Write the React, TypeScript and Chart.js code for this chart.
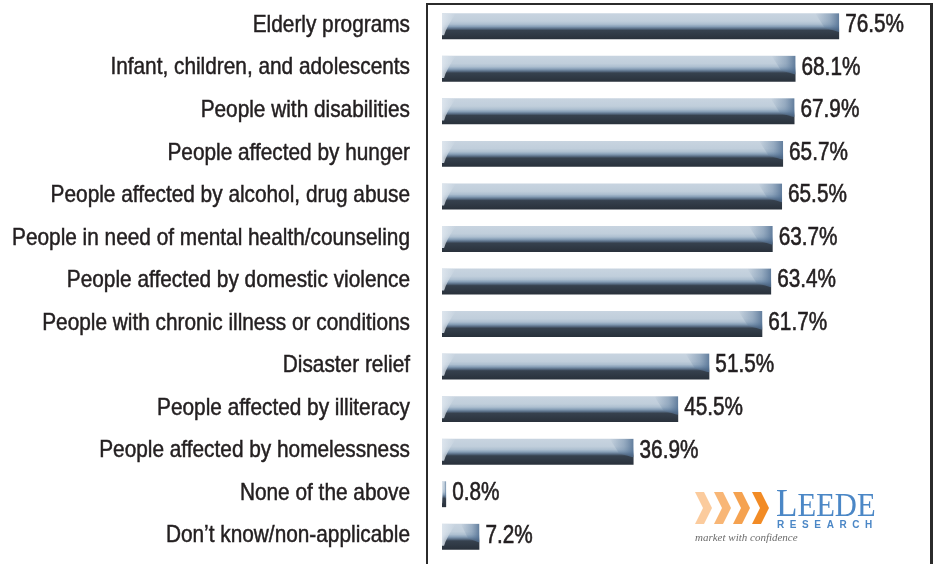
import React, { useEffect, useRef } from "react";
import { Chart, registerables } from "chart.js";

Chart.register(...registerables);

const categories: string[] = [
  "Elderly programs",
  "Infant, children, and adolescents",
  "People with disabilities",
  "People affected by hunger",
  "People affected by alcohol, drug abuse",
  "People in need of mental health/counseling",
  "People affected by domestic violence",
  "People with chronic illness or conditions",
  "Disaster relief",
  "People affected by illiteracy",
  "People affected by homelessness",
  "None of the above",
  "Don\u2019t know/non-applicable",
];

const values: number[] = [76.5, 68.1, 67.9, 65.7, 65.5, 63.7, 63.4, 61.7, 51.5, 45.5, 36.9, 0.8, 7.2];

const valueLabels: string[] = values.map((v) => v.toFixed(1) + "%");

const X_MAX = 94;
const BAR_FRACTION = 0.61;
const TEXT_FONT = '"Liberation Sans", Arial, sans-serif';
const TEXT_COLOR = "#231f20";

const barGradient = (ctx: any) => {
  const chart = ctx.chart;
  const area = chart.chartArea;
  const yScale = chart.scales && chart.scales.y;
  if (!area || !yScale || ctx.dataIndex === undefined) return "#8ea6bd";
  const band = (area.bottom - area.top) / categories.length;
  const cy = yScale.getPixelForValue(ctx.dataIndex);
  const h = band * BAR_FRACTION;
  const g = chart.ctx.createLinearGradient(0, cy - h / 2, 0, cy + h / 2);
  g.addColorStop(0, "#c8d4e0");
  g.addColorStop(0.3, "#c0cedb");
  g.addColorStop(0.42, "#adbfd0");
  g.addColorStop(0.51, "#879fb7");
  g.addColorStop(0.59, "#5a6f87");
  g.addColorStop(0.66, "#36414e");
  g.addColorStop(1, "#29313b");
  return g;
};

const barShading = {
  id: "barShading",
  afterDatasetsDraw(chart: any) {
    const c = chart.ctx;
    const meta = chart.getDatasetMeta(0);
    meta.data.forEach((el: any) => {
      const right = el.x;
      const left = el.base;
      const w = right - left;
      const top = el.y - el.height / 2;
      const h = el.height;
      c.save();
      c.beginPath();
      c.rect(left, top, w, h);
      c.clip();
      // right end: soft darker steel blue
      const rw = Math.min(24, w * 0.5);
      const gr = c.createLinearGradient(right - rw, 0, right, 0);
      gr.addColorStop(0, "rgba(95,125,158,0)");
      gr.addColorStop(0.6, "rgba(95,125,158,0.45)");
      gr.addColorStop(1, "rgba(80,110,145,0.85)");
      c.fillStyle = gr;
      c.beginPath();
      c.moveTo(right - rw, top);
      c.lineTo(right, top);
      c.lineTo(right, top + h * 0.72);
      c.quadraticCurveTo(right - rw * 0.2, top + h * 0.67, right - rw * 0.6, top + h * 0.57);
      c.closePath();
      c.fill();
      // left end: light gloss
      const lw = Math.min(14, w * 0.45);
      const gl = c.createLinearGradient(left, 0, left + lw, 0);
      gl.addColorStop(0, "rgba(222,230,238,0.95)");
      gl.addColorStop(1, "rgba(222,230,238,0)");
      c.fillStyle = gl;
      c.beginPath();
      c.moveTo(left, top);
      c.lineTo(left + lw, top);
      c.quadraticCurveTo(left + lw * 0.3, top + h * 0.55, left + lw * 0.15, top + h * 0.85);
      c.lineTo(left, top + h * 0.85);
      c.closePath();
      c.fill();
      c.restore();
    });
  },
};

const categoryLabelPlugin = {
  id: "categoryLabels",
  afterDraw(chart: any) {
    const c = chart.ctx;
    const yScale = chart.scales.y;
    const a = chart.chartArea;
    c.save();
    c.font = "24px " + TEXT_FONT;
    c.fillStyle = TEXT_COLOR;
    c.strokeStyle = TEXT_COLOR;
    c.lineWidth = 0.5;
    c.textAlign = "right";
    c.textBaseline = "middle";
    categories.forEach((t, i) => {
      const py = yScale.getPixelForValue(i);
      c.save();
      c.translate(a.left - 32, py - 1);
      c.scale(0.867, 1);
      c.fillText(t, 0, 0);
      c.strokeText(t, 0, 0);
      c.restore();
    });
    c.restore();
  },
};

const valueLabelPlugin = {
  id: "valueLabels",
  afterDatasetsDraw(chart: any) {
    const c = chart.ctx;
    const meta = chart.getDatasetMeta(0);
    c.save();
    c.font = "25px " + TEXT_FONT;
    c.fillStyle = TEXT_COLOR;
    c.strokeStyle = TEXT_COLOR;
    c.lineWidth = 0.6;
    c.textAlign = "left";
    c.textBaseline = "middle";
    meta.data.forEach((el: any, i: number) => {
      c.save();
      c.translate(el.x + 6, el.y - 1);
      c.scale(0.83, 1);
      c.fillText(valueLabels[i], 0, 0);
      c.strokeText(valueLabels[i], 0, 0);
      c.restore();
    });
    c.restore();
  },
};

const framePlugin = {
  id: "frame",
  afterDraw(chart: any) {
    const c = chart.ctx;
    const a = chart.chartArea;
    const left = a.left - 16;
    const right = a.right;
    const top = 3;
    c.save();
    c.fillStyle = "#2b2b2b";
    c.fillRect(left, top, 2, chart.height - top);
    c.fillRect(left, top, right + 3 - left, 2);
    c.fillRect(right, top, 3, chart.height - top);
    c.restore();
  },
};

function Logo() {
  const chevron = (x: number, color: string, key: number) => (
    <polygon
      key={key}
      points={`${x},0 ${x + 9},0 ${x + 17},16 ${x + 9},32 ${x},32 ${x + 8},16`}
      fill={color}
    />
  );
  const colors = ["#fbcb9d", "#f8b676", "#f5a250", "#f28b25"];
  return (
    <div style={{ position: "absolute", left: 692, top: 486, width: 200, height: 70, pointerEvents: "none" }}>
      <svg width={78} height={33} style={{ position: "absolute", left: 3, top: 6 }}>
        {colors.map((col, i) => chevron(i * 19, col, i))}
      </svg>
      <div
        style={{
          position: "absolute",
          left: 84,
          top: 0,
          fontFamily: '"Liberation Serif", "DejaVu Serif", serif',
          color: "#4b87c6",
          whiteSpace: "nowrap",
          lineHeight: "34px",
          transform: "scaleX(0.9)",
          transformOrigin: "left top",
        }}
      >
        <span style={{ fontSize: 39 }}>L</span>
        <span style={{ fontSize: 34 }}>EEDE</span>
      </div>
      <div
        style={{
          position: "absolute",
          left: 85,
          top: 33,
          fontFamily: '"Liberation Sans", Arial, sans-serif',
          fontWeight: 700,
          fontSize: 10,
          letterSpacing: "5.6px",
          color: "#4b87c6",
          whiteSpace: "nowrap",
          lineHeight: "11px",
        }}
      >
        RESEARCH
      </div>
      <div
        style={{
          position: "absolute",
          left: 3,
          top: 45,
          fontFamily: '"Liberation Serif", "DejaVu Serif", serif',
          fontStyle: "italic",
          fontSize: 11,
          color: "#6b6b6b",
          whiteSpace: "nowrap",
          lineHeight: "13px",
        }}
      >
        market with confidence
      </div>
    </div>
  );
}

export default function App() {
  const canvasRef = useRef<HTMLCanvasElement | null>(null);

  useEffect(() => {
    const canvas = canvasRef.current;
    if (!canvas) return;
    const chart = new Chart(canvas, {
      type: "bar",
      data: {
        labels: categories,
        datasets: [
          {
            data: values,
            backgroundColor: barGradient as any,
            borderWidth: 0,
            categoryPercentage: 1,
            barPercentage: BAR_FRACTION,
          },
        ],
      },
      options: {
        indexAxis: "y",
        responsive: false,
        animation: false,
        devicePixelRatio: 1,
        layout: { padding: { top: 5, bottom: 6, left: 0, right: 8 } },
        plugins: {
          legend: { display: false },
          tooltip: { enabled: false },
        },
        scales: {
          x: {
            display: false,
            min: 0,
            max: X_MAX,
          },
          y: {
            grid: { display: false, drawTicks: false },
            border: { display: false },
            ticks: { display: false },
            afterFit: (scale: any) => {
              scale.width = 442;
            },
          },
        },
      },
      plugins: [barShading, valueLabelPlugin, categoryLabelPlugin, framePlugin],
    });
    return () => chart.destroy();
  }, []);

  return (
    <div
      style={{
        position: "fixed",
        left: 0,
        top: 0,
        width: 938,
        height: 564,
        background: "#ffffff",
        overflow: "hidden",
      }}
    >
      <canvas ref={canvasRef} width={938} height={564} style={{ display: "block" }} />
      <Logo />
    </div>
  );
}
